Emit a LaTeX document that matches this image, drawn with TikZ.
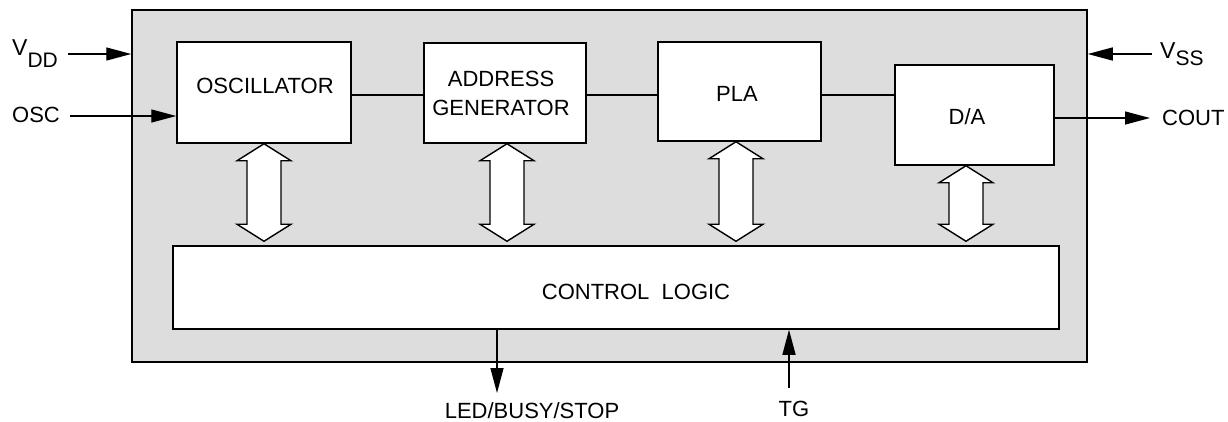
\documentclass[tikz,border=0pt]{standalone}
\usepackage{fontspec}
\setmainfont{Liberation Sans}
\usetikzlibrary{arrows.meta,calc}
\definecolor{panel}{HTML}{DDDDDD}
\newcommand\DArr[2]{\draw[dblar] let \p1=(#1), \p2=(#2) in
  (\x1,\y1) -- ++(27pt,-17pt) -- ++(-10pt,0pt) -- (\x1+17pt,\y2+17pt) -- ++(10pt,0pt)
  -- (\x1,\y2) -- ++(-27pt,17pt) -- ++(10pt,0pt) -- (\x1-17pt,\y1-17pt) -- ++(-10pt,0pt) -- cycle;}
\begin{document}
\begin{tikzpicture}[x=1pt,y=-1pt,
  every node/.style={font=\fontsize{22}{29}\selectfont},
  blk/.style={draw,line width=1.5pt,fill=white,inner sep=0pt},
  txt/.style={inner sep=0pt,align=center},
  sig/.style={line width=1.4pt,-{Triangle[length=25pt,width=13pt]}},
  wire/.style={line width=1.4pt},
  dblar/.style={draw,line width=1.4pt,fill=white,line join=miter}]
\useasboundingbox (0,0) rectangle (1228,421);
% outer panel
\node[draw,line width=1.5pt,fill=panel,minimum width=955pt,minimum height=352pt,inner sep=0pt] (outer) at (609.5,186) {};
% blocks
\node[blk,minimum width=174pt,minimum height=101pt] (osc) at (264,92.5) {};
\node[blk,minimum width=162pt,minimum height=100pt] (addr) at (505,93) {};
\node[blk,minimum width=163pt,minimum height=99pt] (pla) at (739.5,91.5) {};
\node[blk,minimum width=159pt,minimum height=100pt] (da) at (974.5,115) {};
\node[blk,minimum width=886pt,minimum height=83pt] (ctl) at (616,287.5) {};
% block texts
\node[txt] (oscT) at (265,86) {OSCILLATOR};
\node[txt] (addrT) at (501,93.5) {ADDRESS\\GENERATOR};
\node[txt] (plaT) at (737,94) {PLA};
\node[txt] (daT) at (967,117) {D/A};
\node[txt] (ctlT) at (636,292) {CONTROL\ \ LOGIC};
% links between blocks
\coordinate (lk) at (0,95);
\draw[wire] (osc.east |- lk) -- (addr.west |- lk);
\draw[wire] (addr.east |- lk) -- (pla.west |- lk);
\draw[wire] (pla.east |- lk) -- (da.west |- lk);
% double arrows
\DArr{osc.south}{$(ctl.north)+(0,-4)$}
\DArr{$(addr.south)+(2,0)$}{$(ctl.north)+(0,-4)$}
\DArr{$(pla.south)+(-3.5,0)$}{$(ctl.north)+(0,-4)$}
\DArr{$(da.south)+(-8.5,0)$}{$(ctl.north)+(0,-4)$}
% external labels
\node[inner sep=0pt,anchor=base west] (vddL) at (12,55) {\fontsize{23}{29}\selectfont V\fontsize{21}{24}\selectfont\raisebox{-12pt}{DD}};
\node[txt,anchor=west] (oscL) at (12,115) {OSC};
\node[inner sep=0pt,anchor=base west] (vssL) at (1160,58) {\fontsize{23}{29}\selectfont V\fontsize{21}{24}\selectfont\raisebox{-7pt}{SS}};
\node[txt,anchor=west] (coutL) at (1162,118) {COUT};
\node[txt] (ledL) at (532,410.5) {LED/BUSY/STOP};
\node[txt] (tgL) at (794,408.5) {TG};
% external signals
\coordinate (vddS) at (68,54);
\draw[sig] (vddS) -- (vddS -| outer.west);
\coordinate (oscS) at (70,116);
\draw[sig] (oscS) -- (oscS -| osc.west);
\coordinate (vssS) at (1152,54);
\draw[sig] (vssS) -- (vssS -| outer.east);
\coordinate (coutE) at (1150,118);
\draw[sig] (coutE -| da.east) -- (coutE);
\coordinate (ledE) at (497,393);
\draw[sig] (ledE |- ctl.south) -- (ledE);
\coordinate (tgS) at (789,388);
\draw[sig] (tgS) -- (tgS |- ctl.south);
\end{tikzpicture}
\end{document}
